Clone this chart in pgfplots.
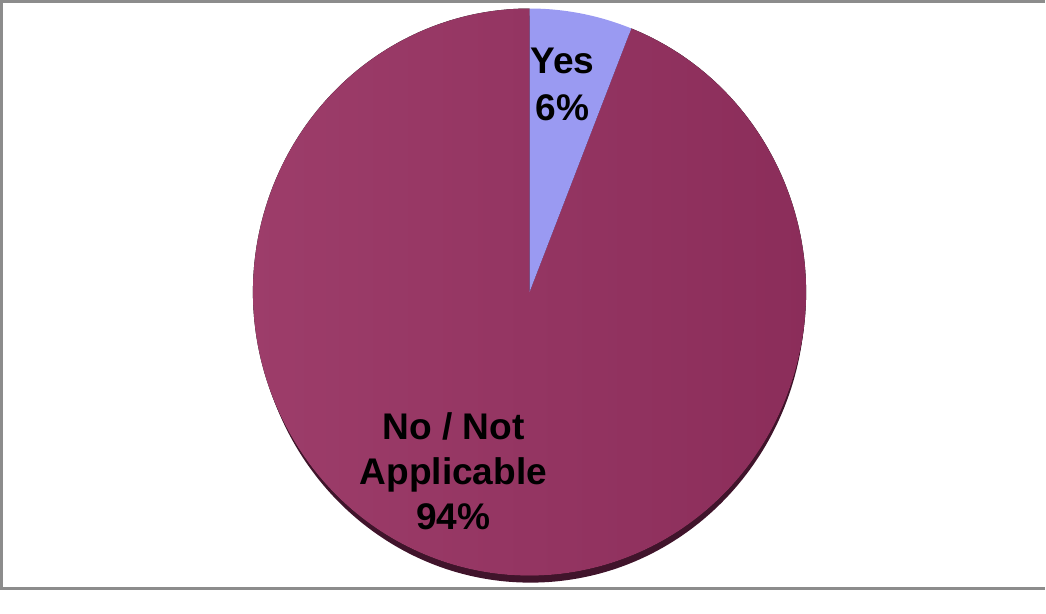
\documentclass[border=0pt]{standalone}
\usepackage{pgfplots}
\pgfplotsset{compat=1.18}
\usepackage{fontspec}
\setmainfont{Liberation Sans}
\definecolor{noL}{HTML}{9E3E6B}
\definecolor{noR}{HTML}{8A2C59}
\definecolor{yesc}{HTML}{9A9AF2}
\definecolor{shadowc}{HTML}{40142B}
\definecolor{framec}{HTML}{8C8C8C}
\begin{document}
\begin{tikzpicture}
\def\cx{532}\def\cy{300}\def\rx{276}\def\ry{283}
\def\vYes{6}\def\vNo{94}
\pgfmathsetmacro{\aA}{90}
\pgfmathsetmacro{\aB}{90-\vYes*3.6}
\pgfmathsetmacro{\aC}{90-(\vYes+\vNo)*3.6}
\begin{axis}[hide axis, scale only axis, width=523pt, height=297.5pt,
  xmin=0, xmax=1046, ymin=0, ymax=595, clip=false]
% frame
\draw[framec, line width=1.5pt] (axis cs:1046,590) -- (axis cs:5,590) -- (axis cs:5,4) -- (axis cs:1046,4);
% shadow
\fill[shadowc] (axis cs:533,293) ellipse[x radius=137pt, y radius=141.5pt];
% No / Not Applicable sector
\fill[left color=noL, right color=noR]
  (axis cs:\cx,\cy) -- (axis cs:{\cx+\rx*cos(\aB)},{\cy+\ry*sin(\aB)})
  arc[start angle=\aB, end angle=\aC, x radius=138pt, y radius=141.5pt] -- cycle;
% Yes sector
\fill[yesc]
  (axis cs:\cx,\cy) -- (axis cs:{\cx+\rx*cos(\aA)},{\cy+\ry*sin(\aA)})
  arc[start angle=\aA, end angle=\aB, x radius=138pt, y radius=141.5pt] -- cycle;
% labels
\node[font=\bfseries\fontsize{18.5}{23.5}\selectfont, align=center, text=black, inner sep=0pt]
  at (axis cs:565,507) {Yes\\6\%};
\node[font=\bfseries\fontsize{18.5}{22.5}\selectfont, align=center, text=black, inner sep=0pt]
  at (axis cs:456,121) {No / Not\\Applicable\\94\%};
\end{axis}
\end{tikzpicture}
\end{document}
